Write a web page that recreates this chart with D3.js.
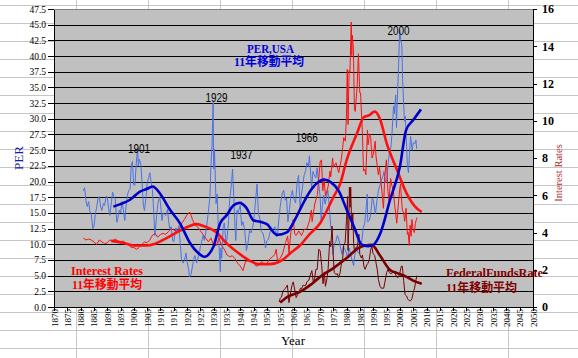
<!DOCTYPE html>
<html>
<head>
<meta charset="utf-8">
<script src="https://cdn.jsdelivr.net/npm/d3@7"></script>
<style>
  body { margin: 0; background: #fff; }
  svg { display: block; }
  .axis text { font-family: "Liberation Serif", serif; fill: #000; }
  .axis path, .axis line { stroke: #000; shape-rendering: crispEdges; }
</style>
</head>
<body>
<div id="chart"></div>
<script>
// Shiller PER (USA), [year, PER]
var perMonthly = [
  [1881.0,18.5],[1881.5,19.0],[1882.0,17.0],[1882.5,16.0],[1883.0,16.8],[1883.5,15.2],[1884.0,14.8],[1884.6,12.5],
  [1885.0,12.8],[1885.6,15.0],[1886.0,15.8],[1886.5,17.2],[1887.0,17.6],[1887.6,15.8],[1888.0,15.4],[1888.6,16.5],
  [1889.0,16.2],[1889.6,17.6],[1890.0,17.6],[1890.6,15.5],[1891.0,14.6],[1891.6,16.8],[1892.0,18.3],[1892.6,17.5],
  [1893.0,17.2],[1893.6,13.5],[1894.0,14.2],[1894.5,15.4],[1895.0,15.0],[1895.6,16.8],[1896.0,15.6],[1896.6,13.8],
  [1897.0,15.8],[1897.6,17.8],[1898.0,18.5],[1898.6,18.8],[1899.0,22.6],[1899.5,23.2],[1899.9,19.5],[1900.4,19.4],
  [1900.9,22.8],[1901.4,25.2],[1901.7,22.5],[1902.0,23.6],[1902.6,22.8],[1903.0,20.4],[1903.6,16.2],[1904.0,15.4],
  [1904.6,17.6],[1905.0,19.8],[1905.6,20.6],[1906.0,21.4],[1906.6,19.6],[1907.0,18.6],[1907.5,15.0],[1907.9,11.4],
  [1908.5,14.2],[1909.0,16.4],[1909.7,17.6],[1910.0,16.6],[1910.6,13.8],[1911.0,15.0],[1911.6,14.8],[1912.0,14.6],
  [1912.7,15.6],[1913.0,14.0],[1913.5,12.4],[1914.0,12.8],[1914.6,10.6],[1915.0,10.4],[1915.8,12.6],[1916.4,11.8],
  [1916.9,13.0],[1917.4,10.4],[1917.9,7.6],[1918.5,7.0],[1919.0,7.4],[1919.6,8.6],[1920.0,7.2],[1920.6,6.0],
  [1920.9,4.8],[1921.5,5.2],[1922.0,6.4],[1922.7,8.0],[1923.0,8.2],[1923.6,7.0],[1924.0,7.6],[1924.7,8.8],
  [1925.0,9.6],[1925.7,10.8],[1926.0,11.4],[1926.5,10.6],[1927.0,11.8],[1927.7,14.0],[1928.0,15.2],[1928.6,17.6],
  [1929.0,22.8],[1929.4,26.0],[1929.8,32.6],[1930.0,22.0],[1930.3,25.2],[1930.9,16.5],[1931.3,18.0],[1931.9,10.8],
  [1932.5,5.6],[1932.7,9.4],[1933.0,7.8],[1933.6,12.8],[1934.0,13.4],[1934.6,10.2],[1935.0,10.8],[1935.6,13.8],
  [1936.0,17.0],[1936.6,19.2],[1937.1,22.0],[1937.6,17.2],[1938.0,12.8],[1938.3,10.6],[1938.8,15.4],[1939.0,14.8],
  [1939.7,15.8],[1940.0,16.2],[1940.5,13.0],[1941.0,13.6],[1941.6,12.4],[1942.3,9.0],[1942.9,10.2],[1943.5,12.2],
  [1944.0,11.8],[1944.7,12.8],[1945.0,13.6],[1945.7,16.8],[1946.3,19.6],[1946.8,15.0],[1947.4,14.0],[1947.9,12.0],
  [1948.5,11.8],[1949.0,10.8],[1949.5,9.4],[1950.0,10.6],[1950.6,10.8],[1951.0,11.6],[1951.7,12.6],[1952.0,12.2],
  [1952.7,12.6],[1953.0,12.8],[1953.7,11.2],[1954.0,11.8],[1954.6,14.4],[1955.0,16.0],[1955.7,18.0],[1956.3,18.6],
  [1956.9,17.0],[1957.4,17.4],[1957.9,13.6],[1958.5,15.6],[1959.0,17.6],[1959.6,18.6],[1960.0,17.4],[1960.8,16.6],
  [1961.3,19.6],[1961.9,21.0],[1962.5,15.6],[1963.0,18.0],[1963.6,19.8],[1964.0,21.0],[1964.6,21.8],[1965.0,23.0],
  [1965.6,22.4],[1966.0,24.1],[1966.8,19.0],[1967.3,21.6],[1967.9,21.0],[1968.4,20.6],[1968.9,22.2],[1969.4,20.0],
  [1970.0,17.6],[1970.4,13.8],[1970.9,16.4],[1971.3,17.8],[1971.9,16.4],[1972.5,17.8],[1972.9,18.6],[1973.4,16.4],
  [1973.9,13.4],[1974.5,11.0],[1974.8,8.3],[1975.3,10.0],[1975.9,10.4],[1976.5,11.4],[1977.0,10.8],[1977.6,9.6],
  [1978.2,8.4],[1978.7,9.6],[1979.3,9.2],[1979.9,8.6],[1980.3,7.8],[1980.9,9.4],[1981.5,8.4],[1982.0,7.4],
  [1982.6,6.6],[1983.0,8.2],[1983.6,9.6],[1984.0,8.8],[1984.6,8.6],[1985.0,9.6],[1985.7,10.6],[1986.2,12.6],
  [1986.8,13.4],[1987.3,15.8],[1987.7,18.0],[1987.9,13.6],[1988.5,13.8],[1989.0,14.8],[1989.6,17.4],[1990.0,17.0],
  [1990.8,14.8],[1991.3,16.8],[1991.9,18.6],[1992.5,19.4],[1993.0,20.2],[1993.6,20.8],[1994.0,21.6],[1994.6,19.8],
  [1995.0,20.0],[1995.6,23.0],[1996.0,24.4],[1996.6,25.4],[1997.0,27.6],[1997.6,32.0],[1997.9,30.8],[1998.4,33.8],
  [1998.7,28.6],[1999.0,32.8],[1999.5,38.6],[1999.9,44.2],[2000.3,42.6],[2000.7,41.8],[2001.0,36.2],[2001.7,29.6],
  [2002.0,30.4],[2002.5,25.6],[2002.8,22.6],[2003.2,21.4],[2003.6,24.6],[2004.0,27.2],[2004.6,25.0],[2005.0,26.2],
  [2005.6,26.0],[2006.0,26.6],[2006.3,25.2]
];
// 11-year moving average of PER
var perAvg = [
  [1892.3,16.0],[1895,16.4],[1898.6,17.1],[1902.3,18.4],[1904.8,18.8],[1907.1,19.2],[1909.8,18.1],[1913.6,15.5],
  [1917.4,13.3],[1921.1,10.2],[1924.2,8.6],[1926.5,8.0],[1929.9,9.6],[1932.4,13.3],[1934.8,14.6],[1937.5,16.2],
  [1939.8,16.6],[1942.3,15.8],[1945,13.8],[1947.5,13.6],[1950,13.2],[1953.8,11.5],[1957.5,11.9],[1960,13.5],
  [1963,16.0],[1966,18.3],[1969,19.8],[1971.5,20.3],[1974,19.9],[1977,18.5],[1980,15.5],[1983,12.5],
  [1985.5,10.0],[1988,9.7],[1990,9.9],[1992.6,11.7],[1996.3,17.1],[2000,22.4],[2002.3,28.2],[2005,29.8],[2007.9,31.5]
];
// long-term interest rate (%), right axis
var bondRate = [
  [1881,3.7],[1882,3.6],[1883,3.65],[1884,3.6],[1885,3.5],[1886,3.35],[1887,3.6],[1888,3.5],[1889,3.4],[1890,3.45],
  [1891,3.6],[1892,3.55],[1893,3.65],[1894,3.55],[1895,3.45],[1896,3.55],[1897,3.4],[1898,3.35],[1899,3.2],[1900,3.2],
  [1901,3.1],[1902,3.2],[1903,3.35],[1904,3.5],[1905,3.45],[1906,3.6],[1907,3.85],[1908,3.95],[1909,3.75],[1910,3.9],
  [1911,3.95],[1912,3.9],[1913,4.05],[1914,4.2],[1915,4.15],[1916,4.05],[1917,4.1],[1918,4.5],[1919,4.7],[1920,4.95],
  [1921,5.1],[1921.6,4.9],[1922,4.7],[1923,4.4],[1924,4.3],[1925,4.1],[1926,3.9],[1927,3.7],[1928,3.5],[1929,3.7],
  [1930,3.3],[1931,3.3],[1932,3.7],[1933,3.3],[1934,3.1],[1935,2.8],[1936,2.7],[1937,2.75],[1938,2.6],[1939,2.35],
  [1940,2.2],[1941,1.95],[1942,2.45],[1943,2.47],[1944,2.48],[1945,2.37],[1946,2.19],[1947,2.25],[1948,2.44],[1949,2.31],
  [1950,2.32],[1951,2.57],[1952,2.68],[1953,2.83],[1953.5,3.1],[1954,2.48],[1955,2.61],[1956,2.9],[1957,3.46],[1957.8,3.8],
  [1958.3,2.9],[1959,4.02],[1959.9,4.7],[1960.5,3.9],[1961,3.84],[1962,4.08],[1963,3.83],[1964,4.17],[1965,4.19],[1966,4.61],
  [1966.7,5.2],[1967,4.58],[1968,5.53],[1969,6.04],[1970,7.79],[1970.5,7.9],[1971,6.24],[1971.5,6.9],[1972,5.95],[1973,6.46],
  [1973.7,7.3],[1974,6.99],[1974.7,8.0],[1975,7.5],[1976,7.74],[1977,7.21],[1978,7.96],[1978.9,9.1],[1979.5,8.9],[1979.9,10.3],
  [1980.2,12.75],[1980.5,9.8],[1980.9,12.7],[1981.2,12.6],[1981.7,15.3],[1981.9,13.5],[1982.1,14.6],[1982.5,13.9],[1982.9,10.6],
  [1983.2,10.5],[1983.9,11.8],[1984.4,13.6],[1984.9,11.5],[1985.2,11.5],[1985.9,9.3],[1986.3,7.3],[1986.8,7.4],[1987.2,7.1],
  [1987.8,9.5],[1988.0,8.7],[1988.6,9.3],[1989.0,9.1],[1989.5,8.0],[1990.0,8.2],[1990.7,8.9],[1991.0,8.1],[1991.9,7.1],
  [1992.3,7.5],[1992.9,6.7],[1993.5,5.8],[1993.8,5.3],[1994.3,7.0],[1994.9,7.9],[1995.5,6.2],[1995.9,5.7],[1996.5,6.9],
  [1997.0,6.5],[1997.5,6.3],[1998.0,5.5],[1998.8,4.5],[1999.2,5.2],[1999.9,6.3],[2000.2,6.6],[2000.9,5.2],[2001.3,5.1],
  [2001.8,4.6],[2002.3,5.3],[2002.8,3.9],[2003.1,4.0],[2003.5,3.3],[2003.8,4.4],[2004.2,3.8],[2004.5,4.7],[2004.9,4.2],
  [2005.4,4.0],[2005.8,4.5],[2006.2,4.7],[2006.4,4.8]
];
// 11-year moving average of interest rate
var bondAvg = [
  [1891.5,3.55],[1896,3.45],[1900,3.3],[1904.8,3.3],[1908,3.4],[1912.3,3.7],[1917.4,4.1],[1921,4.35],[1923.5,4.45],
  [1926.1,4.35],[1931.1,4.0],[1934.3,3.5],[1939.3,2.9],[1944,2.45],[1947,2.3],[1951,2.3],[1955.6,2.5],[1959.3,2.95],
  [1962.4,3.3],[1966,3.9],[1970,4.5],[1975,5.9],[1977.5,6.6],[1980,7.9],[1983.8,9.3],[1986.5,10.2],[1988.5,10.3],
  [1990.5,10.5],[1992.5,10.1],[1995,8.8],[1998.8,7.4],[2002.5,6.1],[2006.3,5.3],[2008.2,5.1]
];
// Federal funds rate (%), drawn on the left axis
var fedFunds = [
  [1954.6,0.8],[1955.0,1.4],[1955.5,1.6],[1956.0,2.5],[1956.6,2.8],[1957.0,3.0],[1957.7,3.5],[1958.3,0.7],[1958.8,2.0],
  [1959.4,3.4],[1959.9,4.0],[1960.5,2.7],[1961.0,1.5],[1961.6,2.0],[1962.0,2.2],[1962.6,3.0],[1963.0,2.9],[1963.6,3.5],
  [1964.0,3.4],[1964.7,3.5],[1965.0,4.0],[1965.8,4.3],[1966.3,5.1],[1966.9,5.8],[1967.5,3.8],[1967.9,4.5],[1968.4,6.0],
  [1968.9,6.0],[1969.5,9.2],[1970.0,9.0],[1970.6,6.6],[1971.1,3.7],[1971.6,5.6],[1972.0,3.3],[1972.6,4.6],[1973.0,6.0],
  [1973.6,10.5],[1974.0,9.6],[1974.5,12.9],[1974.9,8.5],[1975.3,5.5],[1975.9,5.2],[1976.5,5.3],[1976.9,4.7],[1977.5,5.4],
  [1977.9,6.6],[1978.5,7.8],[1978.9,10.0],[1979.4,10.2],[1979.9,13.8],[1980.3,17.6],[1980.5,9.0],[1980.8,13.0],[1981.0,19.1],
  [1981.3,15.9],[1981.5,19.1],[1981.9,12.4],[1982.3,15.0],[1982.6,10.1],[1982.9,8.9],[1983.5,9.5],[1984.0,9.6],[1984.6,11.6],
  [1984.9,8.4],[1985.5,7.8],[1985.9,8.3],[1986.5,6.4],[1986.9,6.0],[1987.5,6.7],[1987.9,6.9],[1988.5,7.6],[1989.0,9.1],
  [1989.4,9.8],[1989.9,8.5],[1990.5,8.2],[1990.9,7.3],[1991.5,5.9],[1991.9,4.4],[1992.5,3.3],[1993.0,3.0],[1993.9,3.0],
  [1994.5,4.3],[1995.0,5.5],[1995.5,6.0],[1996.0,5.5],[1996.6,5.3],[1997.3,5.5],[1998.0,5.5],[1998.8,4.8],[1999.3,4.7],
  [1999.9,5.3],[2000.5,6.5],[2000.9,6.5],[2001.4,4.2],[2001.9,2.0],[2002.5,1.75],[2002.9,1.3],[2003.5,1.0],[2004.0,1.0],
  [2004.5,1.3],[2005.0,2.3],[2005.5,3.0],[2006.0,4.3],[2006.4,5.0]
];
// 11-year moving average of Federal funds rate
var fedAvg = [
  [1955,0.7],[1958,1.7],[1962.4,2.4],[1966,3.4],[1970,4.8],[1975,6.2],[1980,7.8],[1984.4,9.4],[1987,9.8],
  [1989.4,9.9],[1992.5,8.2],[1996.3,5.9],[1999,5.4],[2002.5,4.8],[2005,4.2],[2008.2,3.7]
];

var perTicks = d3.range(0, 47.51, 2.5);
var rateTicks = d3.range(0, 16.1, 2);
var yearTicks = d3.range(1870, 2051, 5);
var peakNotes = [["1901", 1901.9, 25.2], ["1929", 1931.1, 33.3], ["1937", 1940.5, 24.2], ["1966", 1965.0, 26.9], ["2000", 1999.5, 44.0]];

var width = 578, height = 358;
var svg = d3.select("#chart").append("svg")
    .attr("width", width)
    .attr("height", height);

// spreadsheet cells behind the chart
svg.append("rect").attr("width", width).attr("height", height).attr("fill", "#fff");
var sheet = svg.append("g").attr("stroke", "#c6c6c6").attr("shape-rendering", "crispEdges");
d3.range(0, 20).forEach(function(i) {
  var yy = Math.round(4.7 + i * 18.08) + 0.5;
  sheet.append("line").attr("x1", 0).attr("x2", width).attr("y1", yy).attr("y2", yy);
});
d3.range(0, 7).forEach(function(i) {
  var xx = 76.5 + i * 72;
  sheet.append("line").attr("x1", xx).attr("x2", xx).attr("y1", 0).attr("y2", height);
});

var x = d3.scaleLinear().domain([1870, 2050]).range([54, 533]);
var yL = d3.scaleLinear().domain([0, 47.5]).range([307, 9]);
var yR = d3.scaleLinear().domain([0, 16]).range([307, 9]);

// plot area
svg.append("rect")
    .attr("x", 54).attr("y", 9).attr("width", 479).attr("height", 298)
    .attr("fill", "#c0c0c0")
    .attr("stroke", "#808080")
    .attr("shape-rendering", "crispEdges");

svg.append("g").selectAll("line")
    .data(perTicks.filter(function(d) { return d > 0 && d < 47.5; }))
  .enter().append("line")
    .attr("x1", 54).attr("x2", 533)
    .attr("y1", function(d) { return Math.round(yL(d)) + 0.5; })
    .attr("y2", function(d) { return Math.round(yL(d)) + 0.5; })
    .attr("stroke", "#000")
    .attr("shape-rendering", "crispEdges");

svg.append("clipPath").attr("id", "plotclip")
  .append("rect").attr("x", 54).attr("y", 9).attr("width", 479).attr("height", 298);

var plot = svg.append("g").attr("clip-path", "url(#plotclip)");

var lineL = d3.line().x(function(d) { return x(d[0]); }).y(function(d) { return yL(d[1]); });
var lineR = d3.line().x(function(d) { return x(d[0]); }).y(function(d) { return yR(d[1]); });
var smoothL = d3.line().curve(d3.curveMonotoneX).x(function(d) { return x(d[0]); }).y(function(d) { return yL(d[1]); });
var smoothR = d3.line().curve(d3.curveMonotoneX).x(function(d) { return x(d[0]); }).y(function(d) { return yR(d[1]); });

function drawLine(data, gen, color, w) {
  plot.append("path")
      .datum(data)
      .attr("d", gen)
      .attr("fill", "none")
      .attr("stroke", color)
      .attr("stroke-width", w)
      .attr("stroke-linejoin", "round");
}

drawLine(perMonthly, lineL, "#4a72e6", 1);
drawLine(bondRate, lineR, "#ff1010", 1);
drawLine(fedFunds, lineL, "#7a0000", 1);
drawLine(bondAvg, smoothR, "#ff1010", 2.6);
drawLine(fedAvg, smoothL, "#7a0000", 2.6);
drawLine(perAvg, smoothL, "#0000cc", 2.6);

// axes
var axL = svg.append("g").attr("class", "axis")
    .attr("transform", "translate(54,0)")
    .call(d3.axisLeft(yL).tickValues(perTicks).tickFormat(d3.format(".1f")).tickSize(6).tickSizeOuter(0).tickPadding(2));
axL.selectAll("text").style("font-size", "9.5px");

var axR = svg.append("g").attr("class", "axis")
    .attr("transform", "translate(533,0)")
    .call(d3.axisRight(yR).tickValues(rateTicks).tickFormat(d3.format("d")).tickSize(4).tickSizeOuter(0).tickPadding(5));
axR.selectAll("text").style("font-size", "12px").style("font-weight", "bold");

var axB = svg.append("g").attr("class", "axis")
    .attr("transform", "translate(0,307)")
    .call(d3.axisBottom(x).tickValues(yearTicks).tickFormat(d3.format("d")).tickSize(4).tickSizeOuter(0));
axB.selectAll("text")
    .style("font-size", "9px")
    .attr("text-anchor", "end")
    .attr("dy", null)
    .attr("dominant-baseline", "central")
    .attr("transform", "translate(0,2) rotate(-90)")
    .attr("x", 0).attr("y", 0);

// axis titles
svg.append("text")
    .attr("transform", "translate(18,158) rotate(-90)")
    .attr("text-anchor", "middle").attr("dominant-baseline", "central")
    .style("font-family", "Liberation Serif, serif").style("font-size", "13px")
    .attr("fill", "#1a1aa8")
    .text("PER");
svg.append("text")
    .attr("transform", "translate(558,173) rotate(-90)")
    .attr("text-anchor", "middle").attr("dominant-baseline", "central")
    .style("font-family", "Liberation Serif, serif").style("font-size", "10.5px")
    .attr("fill", "#b0302a")
    .text("Interest Rates");
svg.append("text")
    .attr("x", 293).attr("y", 345)
    .attr("text-anchor", "middle")
    .style("font-family", "Liberation Serif, serif").style("font-size", "13px")
    .text("Year");

// peak year notes
svg.append("g").selectAll("text")
    .data(peakNotes)
  .enter().append("text")
    .attr("x", function(d) { return x(d[1]) - 11; })
    .attr("y", function(d) { return yL(d[2]) + 4; })
    .attr("textLength", 22).attr("lengthAdjust", "spacingAndGlyphs")
    .style("font-family", "Liberation Sans, sans-serif").style("font-size", "13px")
    .text(function(d) { return d[0]; });

// series captions
function caption(txt, cx, by, w, color, anchor) {
  svg.append("text")
      .attr("x", cx).attr("y", by)
      .attr("text-anchor", anchor || "middle")
      .attr("textLength", w).attr("lengthAdjust", "spacingAndGlyphs")
      .style("font-family", "Liberation Serif, Noto Sans CJK JP, serif")
      .style("font-size", "12px").style("font-weight", "bold")
      .attr("fill", color)
      .text(txt);
}
caption("PER,USA", 270.5, 52.5, 47, "#0000dd");
caption("11年移動平均", 269, 66, 70, "#0000dd");
caption("Interest Rates", 107, 275, 72, "#ff0000");
caption("11年移動平均", 107, 289, 70, "#ff0000");
caption("FederalFundsRate", 446, 277, 97, "#800000", "start");
caption("11年移動平均", 446, 291.5, 71, "#800000", "start");
</script>
</body>
</html>
